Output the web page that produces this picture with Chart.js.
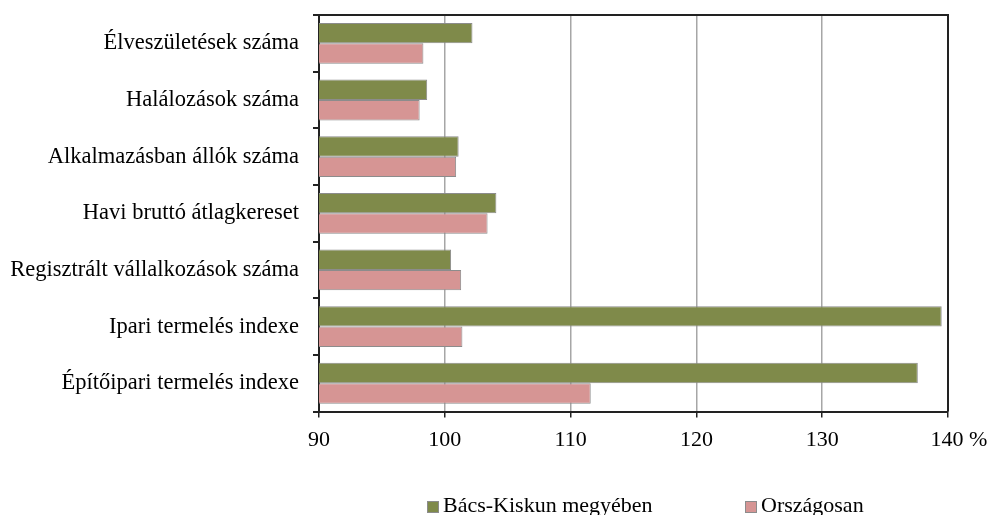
<!DOCTYPE html>
<html>
<head>
<meta charset="utf-8">
<script src="https://cdn.jsdelivr.net/npm/chart.js@4/dist/chart.umd.min.js"></script>
<style>
    html, body { margin: 0; padding: 0; background: #fff; }
    #wrap { width: 989px; height: 515px; }
</style>
</head>
<body>
<div id="wrap"><canvas id="chart" width="989" height="515"></canvas></div>
<script>
// ---- DATA ----
const categories = [
    "Élveszületések száma",
    "Halálozások száma",
    "Alkalmazásban állók száma",
    "Havi bruttó átlagkereset",
    "Regisztrált vállalkozások száma",
    "Ipari termelés indexe",
    "Építőipari termelés indexe"
];
const countyLabel = "Bács-Kiskun megyében";
const countryLabel = "Országosan";
const countyValues = [102.2, 98.6, 101.1, 104.1, 100.5, 139.5, 137.6];
const countryValues = [98.3, 98.0, 100.9, 103.4, 101.3, 101.4, 111.6];
const xTicks = [90, 100, 110, 120, 130, 140];

// ---- STYLE ----
const FONT = "'Liberation Serif', 'Times New Roman', serif";
const GREEN = "#7f8a4a";
const PINK = "#d69594";
const BAR_BORDER = "#8c8c8c";
const AXIS = "#222222";
const GRID = "#a6a6a6";

// top and right frame of the plot area
const frameLines = {
    id: "frameLines",
    afterDraw(chart) {
        const { ctx, chartArea: a } = chart;
        ctx.save();
        ctx.strokeStyle = AXIS;
        ctx.lineWidth = 2;
        ctx.beginPath();
        ctx.moveTo(a.left, a.top);
        ctx.lineTo(a.right, a.top);
        ctx.lineTo(a.right, a.bottom);
        ctx.stroke();
        ctx.restore();
    }
};

// legend drawn by hand, the two items sit far apart
const wideLegend = {
    id: "wideLegend",
    afterDraw(chart) {
        const { ctx } = chart;
        const items = [
            { ds: chart.data.datasets[0], x: 427 },
            { ds: chart.data.datasets[1], x: 745 }
        ];
        ctx.save();
        ctx.font = "22px " + FONT;
        ctx.textBaseline = "alphabetic";
        items.forEach(it => {
            ctx.fillStyle = it.ds.backgroundColor;
            ctx.fillRect(it.x, 501, 12, 12);
            ctx.strokeStyle = BAR_BORDER;
            ctx.lineWidth = 1;
            ctx.strokeRect(it.x + 0.5, 501.5, 11, 11);
            ctx.fillStyle = "#000";
            ctx.fillText(it.ds.label, it.x + 16, 512);
        });
        ctx.restore();
    }
};

new Chart(document.getElementById("chart"), {
    type: "bar",
    data: {
        labels: categories,
        datasets: [
            {
                label: countyLabel,
                data: countyValues,
                backgroundColor: GREEN,
                borderColor: BAR_BORDER,
                borderWidth: 1,
                categoryPercentage: 0.72,
                barPercentage: 1
            },
            {
                label: countryLabel,
                data: countryValues,
                backgroundColor: PINK,
                borderColor: BAR_BORDER,
                borderWidth: 1,
                categoryPercentage: 0.72,
                barPercentage: 1
            }
        ]
    },
    options: {
        indexAxis: "y",
        responsive: false,
        devicePixelRatio: 1,
        animation: false,
        layout: { padding: { top: 15, right: 41, bottom: 53, left: 0 } },
        plugins: {
            legend: { display: false },
            tooltip: { enabled: false }
        },
        scales: {
            x: {
                type: "linear",
                min: xTicks[0],
                max: xTicks[xTicks.length - 1],
                afterBuildTicks: scale => { scale.ticks = xTicks.map(v => ({ value: v })); },
                afterFit: scale => { scale.paddingRight = 0; scale.paddingLeft = 0; },
                ticks: {
                    color: "#000",
                    font: { family: FONT, size: 22 },
                    padding: 9,
                    maxRotation: 0,
                    callback: v => v === 140 ? "\u2007\u2007140 %" : String(v)
                },
                grid: {
                    color: GRID,
                    lineWidth: 1.5,
                    tickColor: AXIS,
                    tickLength: 6
                },
                border: { color: AXIS, width: 2 }
            },
            y: {
                type: "category",
                afterFit: scale => {
                    scale.width = 319;
                    scale.paddingTop = 0;
                    scale.paddingBottom = 0;
                },
                ticks: {
                    color: "#000",
                    font: { family: FONT, size: 22.5 },
                    padding: 14,
                    autoSkip: false
                },
                grid: {
                    offset: true,
                    drawOnChartArea: false,
                    color: AXIS,
                    lineWidth: 2,
                    tickLength: 6
                },
                border: { color: AXIS, width: 2 }
            }
        }
    },
    plugins: [frameLines, wideLegend]
});
</script>
</body>
</html>
